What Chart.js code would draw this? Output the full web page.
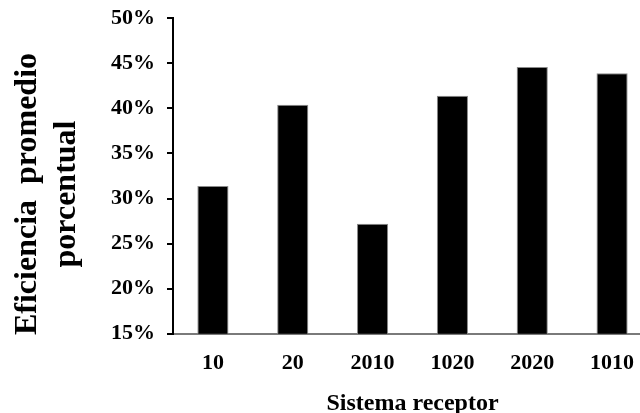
<!DOCTYPE html>
<html>
<head>
<meta charset="utf-8">
<script src="https://cdn.jsdelivr.net/npm/chart.js@4"></script>
<style>
  html, body { margin: 0; padding: 0; background: #fff; overflow: hidden; }
  #wrap { width: 660px; height: 425px; margin-top: -7px; }
</style>
</head>
<body>
<div id="wrap"><canvas id="chart" width="660" height="425"></canvas></div>
<script>
const categories = ['10', '20', '2010', '1020', '2020', '1010'];
const efficiency = [31.4, 40.4, 27.2, 41.4, 44.6, 43.9];
const yTicks = [15, 20, 25, 30, 35, 40, 45, 50];
const yTitleLines = ['Eficiencia  promedio', 'porcentual'];
const xTitle = 'Sistema receptor';

const serif = '"Liberation Serif", "Times New Roman", serif';

// y title drawn by hand: it sits lower than the middle of the axis
const yTitlePlugin = {
  id: 'yTitle',
  afterDraw(chart) {
    const ctx = chart.ctx;
    const area = chart.chartArea;
    const cy = (area.top + area.bottom) / 2 + 18;
    const baselines = [36, 75];
    ctx.save();
    ctx.fillStyle = '#000';
    ctx.font = 'bold 32px ' + serif;
    ctx.textAlign = 'center';
    ctx.textBaseline = 'alphabetic';
    yTitleLines.forEach((line, i) => {
      ctx.save();
      ctx.translate(baselines[i], cy);
      ctx.rotate(-Math.PI / 2);
      ctx.fillText(line, 0, 0);
      ctx.restore();
    });
    ctx.restore();
  }
};

new Chart(document.getElementById('chart'), {
  type: 'bar',
  data: {
    labels: categories,
    datasets: [{
      data: efficiency,
      backgroundColor: '#000',
      borderColor: '#8a8a8a',
      borderWidth: 1,
      categoryPercentage: 1,
      barPercentage: 0.39
    }]
  },
  options: {
    responsive: false,
    animation: false,
    layout: { padding: { left: 99, right: 8, top: 0, bottom: 0 } },
    plugins: {
      legend: { display: false },
      tooltip: { enabled: false }
    },
    scales: {
      x: {
        grid: { display: false },
        border: { display: true, color: '#7a7a7a', width: 2 },
        ticks: {
          color: '#000',
          padding: 8,
          font: { family: serif, size: 22, weight: 'bold' }
        },
        title: {
          display: true,
          text: xTitle,
          color: '#000',
          padding: { top: 5, bottom: 0 },
          font: { family: serif, size: 24, weight: 'bold' }
        }
      },
      y: {
        min: yTicks[0],
        max: yTicks[yTicks.length - 1],
        afterBuildTicks(scale) {
          scale.ticks = yTicks.map(v => ({ value: v }));
        },
        grid: {
          drawOnChartArea: false,
          drawTicks: true,
          tickLength: 6,
          color: '#000',
          lineWidth: 2
        },
        border: { display: true, color: '#000', width: 2 },
        ticks: {
          color: '#000',
          padding: 12,
          font: { family: serif, size: 22, weight: 'bold' },
          callback: v => v + '%'
        }
      }
    }
  },
  plugins: [yTitlePlugin]
});
</script>
</body>
</html>
